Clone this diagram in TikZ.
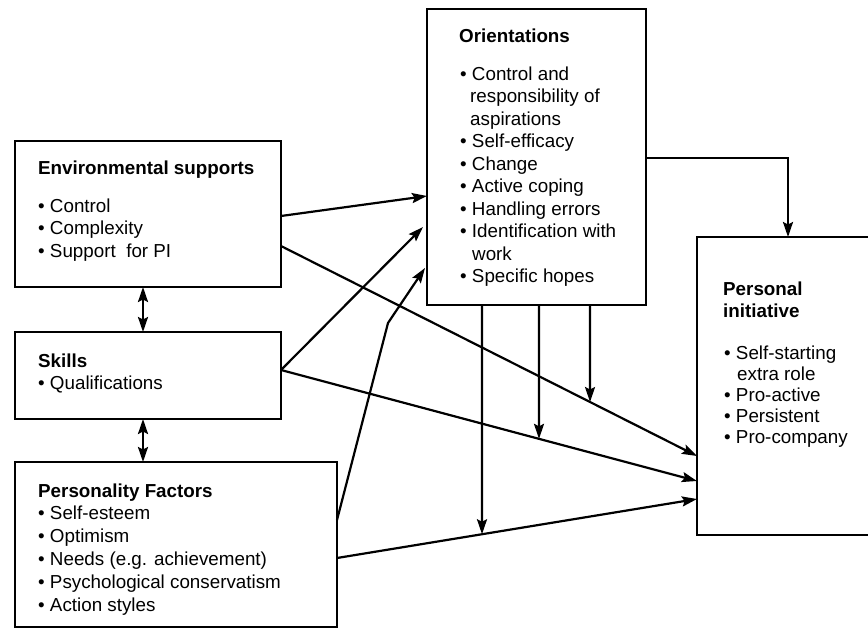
\documentclass[tikz,border=0pt]{standalone}
\usepackage{fontspec}
\setmainfont{Liberation Sans}
\usetikzlibrary{arrows.meta,calc}
\begin{document}
\begin{tikzpicture}[x=1pt,y=-1pt,
  box/.style={draw, line width=2.2pt, anchor=north west, inner sep=0pt, outer sep=0pt},
  txt/.style={anchor=base west, inner sep=0pt, font=\fontsize{18.8}{22}\selectfont},
  ttl/.style={anchor=base west, inner sep=0pt, font=\fontsize{18.8}{22}\selectfont\bfseries},
  arr/.style={line width=2.2pt, -{Stealth[length=15pt,width=10pt,inset=2.5pt]}},
  dbl/.style={line width=2.2pt, {Stealth[length=15pt,width=10pt,inset=2.5pt]}-{Stealth[length=15pt,width=10pt,inset=2.5pt]}}]
\useasboundingbox (0,0) rectangle (868,629);
\fill[white] (0,0) rectangle (868,629);

% boxes
\node[box, minimum width=266pt, minimum height=146pt] (env) at (15,141) {};
\node[box, minimum width=266pt, minimum height=87pt] (skills) at (15,332) {};
\node[box, minimum width=322pt, minimum height=165pt] (pers) at (15,462) {};
\node[box, minimum width=219pt, minimum height=296pt] (orient) at (427,9) {};
\node[box, minimum width=190pt, minimum height=298pt] (pi) at (697,237) {};

% texts: environmental supports
\node[ttl] (envT) at (38,174) {Environmental supports};
\node[txt] (env1) at (38,212) {• Control};
\node[txt] (env2) at (38,234.5) {• Complexity};
\node[txt] (env3) at (38,257) {• Support\ \ for PI};

% skills
\node[ttl] (skT) at (38,367) {Skills};
\node[txt] (sk1) at (38,389) {• Qualifications};

% personality
\node[ttl] (peT) at (38,497) {Personality Factors};
\node[txt] (pe1) at (38,519.5) {• Self-esteem};
\node[txt] (pe2) at (38,542.3) {• Optimism};
\node[txt] (pe3) at (38,565) {• Needs (e.g. achievement)};
\node[txt] (pe4) at (38,588) {• Psychological conservatism};
\node[txt] (pe5) at (38,611) {• Action styles};

% orientations
\node[ttl] (orT) at (459,42) {Orientations};
\node[txt] (or1) at (460,80) {• Control and};
\node[txt] (or1b) at (470,102.5) {responsibility of};
\node[txt] (or1c) at (470,125) {aspirations};
\node[txt] (or2) at (460,147.5) {• Self-efficacy};
\node[txt] (or3) at (460,170) {• Change};
\node[txt] (or4) at (460,192.5) {• Active coping};
\node[txt] (or5) at (460,215) {• Handling errors};
\node[txt] (or6) at (460,237.5) {• Identification with};
\node[txt] (or6b) at (472,260) {work};
\node[txt] (or7) at (460,282.5) {• Specific hopes};

% personal initiative
\node[ttl] (piT) at (723,295.5) {Personal};
\node[ttl] (piT2) at (723,317) {initiative};
\node[txt] (pi1) at (724,359) {• Self-starting};
\node[txt] (pi1b) at (737,380) {extra role};
\node[txt] (pi2) at (724,401) {• Pro-active};
\node[txt] (pi3) at (724,422) {• Persistent};
\node[txt] (pi4) at (724,443) {• Pro-company};

% connector end points
\coordinate (e1) at ([yshift=-75pt]env.north east);
\coordinate (e2) at ([yshift=-105pt]env.north east);
\coordinate (s1) at ([yshift=-38pt]skills.north east);
\coordinate (p1) at ([yshift=-58pt]pers.north east);
\coordinate (p2) at ([yshift=-96pt]pers.north east);
\coordinate (bend) at (388,323);
\coordinate (o1) at ([yshift=-187pt]orient.north west);
\coordinate (o2) at ([xshift=-4pt,yshift=-218pt]orient.north west);
\coordinate (o3) at ([xshift=-2pt,yshift=-259pt]orient.north west);
\coordinate (i1) at ([yshift=-219pt]pi.north west);
\coordinate (i2) at ([yshift=-244pt]pi.north west);
\coordinate (i3) at ([yshift=-262pt]pi.north west);

% arrows to orientations
\draw[arr] (e1) -- (o1);
\draw[arr] (s1) -- (o2);
\draw[arr] (p1) -- (bend) -- (o3);

% arrows to personal initiative
\draw[arr] (e2) -- (i1);
\draw[arr] (s1) -- (i2);
\draw[arr] (p2) -- (i3);
\draw[arr] ([yshift=-149pt]orient.north east) -| ([xshift=91pt]pi.north west);

% moderating arrows
\coordinate (m1) at ([xshift=55pt]orient.south west);
\coordinate (m2) at ([xshift=112pt]orient.south west);
\coordinate (m3) at ([xshift=163pt]orient.south west);
\coordinate (m1b) at ([yshift=-400pt]m1);
\coordinate (m2b) at ([yshift=-400pt]m2);
\coordinate (m3b) at ([yshift=-400pt]m3);
\draw[arr] (m1) -- (intersection of m1--m1b and p2--i3);
\draw[arr] (m2) -- (intersection of m2--m2b and s1--i2);
\draw[arr] (m3) -- (intersection of m3--m3b and e2--i1);

% double arrows
\draw[dbl] ([xshift=128pt]env.south west) -- ([xshift=128pt]skills.north west);
\draw[dbl] ([xshift=128pt]skills.south west) -- ([xshift=128pt]pers.north west);
\end{tikzpicture}
\end{document}
